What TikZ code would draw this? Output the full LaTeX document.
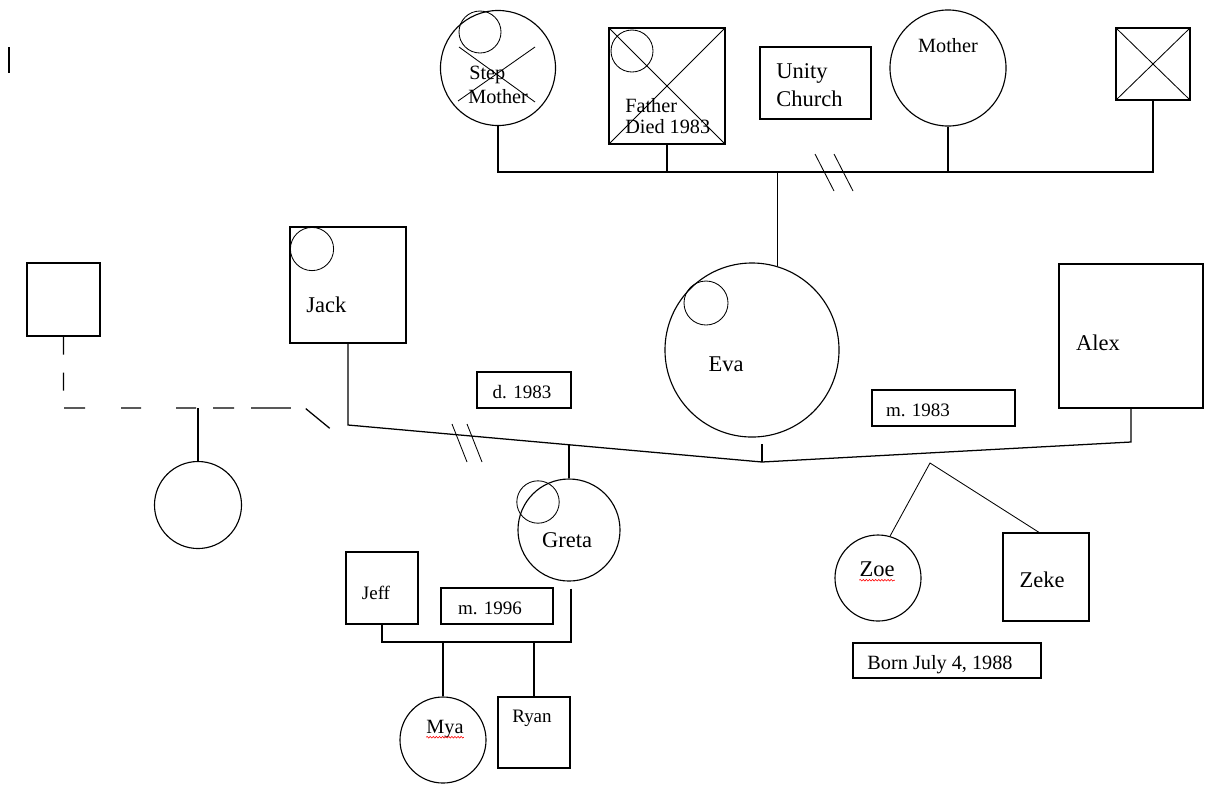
\documentclass[tikz,border=0pt]{standalone}
\usepackage{fontspec}
\setmainfont{Liberation Serif}
\usetikzlibrary{decorations.pathmorphing}

\begin{document}
\begin{tikzpicture}[x=0.025cm, y=-0.025cm,
    fem/.style={draw, circle, line width=0.8pt, inner sep=0pt},
    male/.style={draw, rectangle, line width=0.9pt, inner sep=0pt},
    note/.style={draw, rectangle, line width=0.9pt, minimum height=0.9cm, inner sep=0pt},
    big/.style={font=\fontsize{16}{18}\selectfont, anchor=base, inner sep=0pt},
    lbl/.style={font=\fontsize{14.4}{16}\selectfont, anchor=base, inner sep=0pt},
    sml/.style={font=\fontsize{13.5}{15}\selectfont, anchor=base, inner sep=0pt},
    tie/.style={line width=0.9pt},
    xline/.style={line width=0.6pt},
    dsh/.style={line width=0.9pt, dash pattern=on 12.8pt off 12.8pt on 12.8pt off 12.8pt
                on 14.9pt off 25.6pt on 14.2pt off 24.9pt on 14.2pt off 12.1pt
                on 14.9pt off 12.1pt on 28.4pt off 10.7pt on 22pt off 40pt},
    squig/.style={red, line width=0.4pt, decorate,
                  decoration={snake, amplitude=0.6pt, segment length=2.2pt}}
]
  \useasboundingbox (0,0) rectangle (1208,792);

  % cursor mark
  \draw[line width=2pt] (9,47) -- (9,73);

  % Eva's parents
  \node[fem, minimum size=2.875cm] (stepmom) at (498,68) {};
  \draw[xline] (480,32) circle[radius=0.525cm];
  \draw[xline] (459,47) -- (535,102) (458,101) -- (535,47);
  \node[lbl, anchor=base west] (t-step) at (469,79) {Step};
  \node[lbl, anchor=base west] (t-smom) at (468,103) {Mother};

  \node[male, minimum size=2.9cm] (father) at (667,86) {};
  \draw[xline] (father.north west) -- (father.south east)
               (father.north east) -- (father.south west);
  \draw[xline] (632,51) circle[radius=0.525cm];
  \node[lbl, anchor=base west] (t-fath) at (625,112) {Father};
  \node[lbl, anchor=base west] (t-died) at (625,133) {Died 1983};

  \node[male, minimum width=2.775cm, minimum height=1.8cm] (church) at (815.5,83) {};
  \node[big, anchor=base west] (t-unity) at (776,78) {Unity};
  \node[big, anchor=base west] (t-church) at (776,106) {Church};

  \node[fem, minimum size=2.9cm] (mother) at (948,68) {};
  \node[lbl] (t-mom) at (948,52) {Mother};

  \node[male, minimum width=1.85cm, minimum height=1.8cm] (exbox) at (1153,64) {};
  \draw[xline] (exbox.north west) -- (exbox.south east)
               (exbox.north east) -- (exbox.south west);

  \coordinate (tbar) at (498,172);
  \draw[tie] (stepmom.south) -- (stepmom.south |- tbar) -- (exbox.south |- tbar) -- (exbox.south);
  \draw[tie] (father.south) -- (father.south |- tbar);
  \draw[tie] (mother.south) -- (mother.south |- tbar);
  \draw[xline] (815,154) -- (834,191) (834,154) -- (853,191);

  % second generation
  \node[fem, minimum size=4.35cm] (eva) at (752,350) {};
  \draw[xline] (706,303) circle[radius=0.55cm];
  \node[big] (t-eva) at (726,371) {Eva};
  \draw[tie] (eva.73) -- (eva.73 |- tbar);

  \node[male, minimum size=3.6cm] (alex) at (1131,336) {};
  \node[big] (t-alex) at (1098,350) {Alex};

  \node[male, minimum size=2.9cm] (jack) at (348,285) {};
  \draw[xline] (312,249) circle[radius=0.54cm];
  \node[big, anchor=base west] (t-jack) at (306,312) {Jack};

  \node[note, minimum width=2.35cm] (dnote) at (524,390) {};
  \node[sml] (t-d83) at (522,398) {d. 1983};
  \node[note, minimum width=3.575cm] (mnote) at (943.5,408) {};
  \node[sml] (t-m83) at (918,416) {m. 1983};

  \coordinate (mleft) at (348,425);
  \coordinate (mlow) at (762,462);
  \coordinate (mright) at (1131,442);
  \draw[tie] (jack.south) -- (mleft) -- (mlow) -- (mright) -- (alex.south);
  \draw[tie] (mlow) -- ++(0,-18);
  \draw[xline] (452,424) -- (467,462) (467,424) -- (482,462);

  % Jack's other family
  \node[male, minimum size=1.825cm] (lsq) at (63.5,299.5) {};
  \coordinate (dj) at (305,408);
  \draw[dsh] (lsq.south) |- (dj) -- (333,431);
  \node[fem, minimum size=2.175cm] (lchild) at (198,505) {};
  \draw[tie] (lchild.north) -- (lchild.north |- dj);

  % Greta and her family
  \node[fem, minimum size=2.55cm] (greta) at (569,530) {};
  \draw[xline] (538,502) circle[radius=0.53cm];
  \node[big] (t-greta) at (567,547) {Greta};
  \coordinate (gtop) at (569,445);
  \draw[tie] (greta.north) -- (gtop);

  \node[male, minimum size=1.8cm] (jeff) at (382,588) {};
  \node[sml] (t-jeff) at (376,599) {Jeff};
  \node[note, minimum width=2.8cm] (wnote) at (497,606) {};
  \node[sml] (t-m96) at (490,614) {m. 1996};

  \coordinate (wed) at (571,642);
  \draw[tie] ([yshift=-5pt]greta.south -| wed) -- (wed) -| (jeff.south);

  \node[fem, minimum size=2.15cm] (mya) at (443,740) {};
  \node[lbl] (t-mya) at (445,733) {Mya};
  \draw[squig] ([yshift=-3pt]t-mya.base west) -- ([yshift=-3pt]t-mya.base east);
  \draw[tie] (mya.north) -- (mya.north |- wed);

  \node[male, minimum width=1.8cm, minimum height=1.775cm] (ryan) at (534,732.5) {};
  \node[sml] (t-ryan) at (532,722) {Ryan};
  \draw[tie] (ryan.north) -- (ryan.north |- wed);

  % Eva and Alex's children
  \node[fem, minimum size=2.15cm] (zoe) at (878,578) {};
  \node[big] (t-zoe) at (877,576) {Zoe};
  \draw[squig] ([yshift=-3pt]t-zoe.base west) -- ([yshift=-3pt]t-zoe.base east);
  \node[male, minimum width=2.15cm, minimum height=2.2cm] (zeke) at (1046,577) {};
  \node[big] (t-zeke) at (1042,587) {Zeke};
  \coordinate (sib) at (930,463);
  \draw[xline] (zoe.74) -- (sib) -- ([xshift=-5pt]zeke.north);

  \node[note, minimum width=4.7cm, minimum height=0.875cm] (bnote) at (947,660.5) {};
  \node[lbl] (t-born) at (940,669) {Born July 4, 1988};
\end{tikzpicture}
\end{document}
